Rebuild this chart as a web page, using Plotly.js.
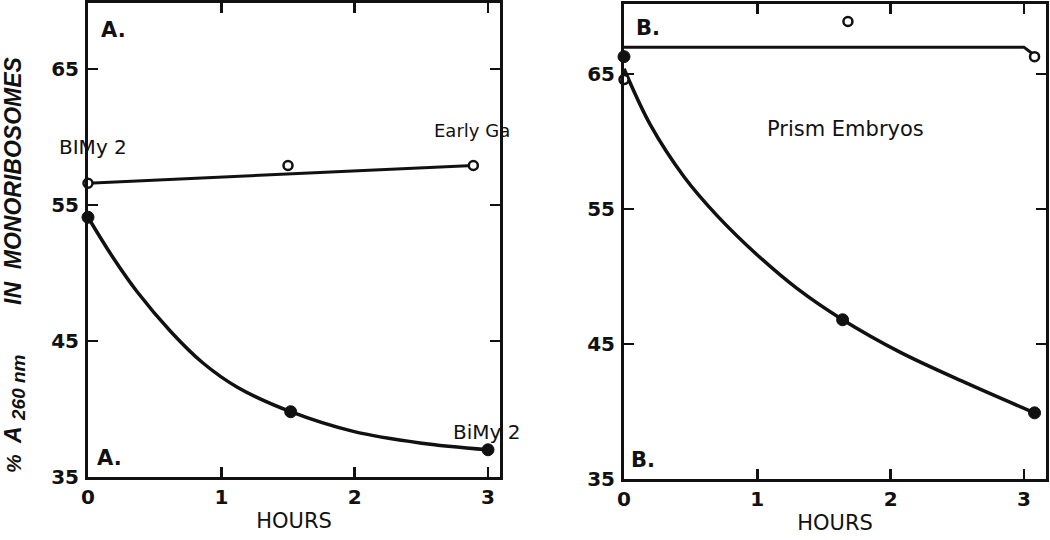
<!DOCTYPE html>
<html>
<head>
<meta charset="utf-8">
<script src="https://cdn.plot.ly/plotly-3.0.1.min.js"></script>
<style>html,body{margin:0;padding:0;background:#fff;}#chart{width:1050px;height:540px;}</style>
</head>
<body>
<div id="chart"></div>
<script>
// ---- Panel A data (hours, % A260 in monoribosomes) ----
const openA_x = [0, 1.5, 2.89];
const openA_y = [56.6, 57.9, 57.9];
const openLineA_x = [0, 2.89];
const openLineA_y = [56.6, 57.9];
const filledA_x = [0, 1.52, 3.0];
const filledA_y = [54.1, 39.8, 37.0];
const curveA_x = [0, 0.19, 0.37, 0.62, 0.86, 1.12, 1.52, 1.99, 2.49, 3.0];
const curveA_y = [54.1, 51.1, 48.6, 45.7, 43.4, 41.6, 39.8, 38.35, 37.5, 37.0];

// ---- Panel B data ----
const openB_x = [0, 1.68, 3.08];
const openB_y = [64.6, 68.9, 66.3];
const openLineB_x = [0, 3.0, 3.08];
const openLineB_y = [67.0, 67.0, 66.4];
const filledB_x = [0, 1.64, 3.08];
const filledB_y = [66.3, 46.8, 39.9];
const curveB_x = [0, 0.2, 0.45, 0.7, 1.0, 1.3, 1.64, 2.07, 2.57, 3.08];
const curveB_y = [65.4, 61.2, 57.4, 54.5, 51.6, 49.1, 46.8, 44.4, 42.1, 39.9];

const xTicks = [0, 1, 2, 3];
const yTicks = [35, 45, 55, 65];

const FONT = 'DejaVu Sans, sans-serif';
const FONT2 = 'Liberation Sans, Arial, sans-serif';
const ink = '#111';

function curve(x, y, xa, ya) {
  return {x: x, y: y, xaxis: xa, yaxis: ya, mode: 'lines', type: 'scatter',
    line: {color: ink, width: 3.5, shape: 'spline', smoothing: 1}, hoverinfo: 'skip', showlegend: false};
}
function straight(x, y, xa, ya) {
  return {x: x, y: y, xaxis: xa, yaxis: ya, mode: 'lines', type: 'scatter',
    line: {color: ink, width: 3}, hoverinfo: 'skip', showlegend: false};
}
function pts(x, y, xa, ya, filled) {
  return {x: x, y: y, xaxis: xa, yaxis: ya, mode: 'markers', type: 'scatter', cliponaxis: false,
    marker: filled ? {size: 12, color: ink, line: {color: ink, width: 1}}
                   : {size: 9, color: '#fff', line: {color: ink, width: 2.5}},
    showlegend: false};
}

const data = [
  straight(openLineA_x, openLineA_y, 'x', 'y'),
  curve(curveA_x, curveA_y, 'x', 'y'),
  pts(openA_x, openA_y, 'x', 'y', false),
  pts(filledA_x, filledA_y, 'x', 'y', true),
  straight(openLineB_x, openLineB_y, 'x2', 'y2'),
  curve(curveB_x, curveB_y, 'x2', 'y2'),
  pts(openB_x, openB_y, 'x2', 'y2', false),
  pts(filledB_x, filledB_y, 'x2', 'y2', true)
];

function xax(domain, range, anchor) {
  return {domain: domain, range: range, anchor: anchor, tickvals: xTicks, ticktext: xTicks.map(String),
    ticks: 'inside', ticklen: 10, tickwidth: 2.5, tickcolor: ink, showline: true, linewidth: 3, linecolor: ink,
    mirror: 'ticks', showgrid: false, zeroline: false, ticklabelstandoff: 0,
    tickfont: {family: FONT, size: 20, color: ink, weight: 'bold'},
    title: {text: 'HOURS', font: {family: FONT, size: 21, color: ink}, standoff: 6}};
}
function yax(domain, range, anchor) {
  return {domain: domain, range: range, anchor: anchor, tickvals: yTicks, ticktext: yTicks.map(String),
    ticks: 'inside', ticklen: 10, tickwidth: 2.5, tickcolor: ink, showline: true, linewidth: 3, linecolor: ink,
    mirror: 'ticks', showgrid: false, zeroline: false, ticklabelstandoff: 2,
    tickfont: {family: FONT, size: 20, color: ink, weight: 'bold'}};
}

const ann = (x, y, xr, yr, text, size, opts) => Object.assign({x: x, y: y, xref: xr, yref: yr, text: text,
  showarrow: false, font: {family: FONT, size: size, color: ink}}, opts || {});
// rotated pieces of the y-axis title, placed in pixel terms on the paper
const yt = (px, py, text, size) => ann(px / 1050, 1 - py / 540, 'paper', 'paper', text, size,
  {textangle: -90, xanchor: 'center', yanchor: 'middle',
   font: {family: FONT2, size: size, color: ink, weight: 'bold', style: 'italic'}});

const layout = {
  width: 1050, height: 540,
  margin: {l: 0, r: 0, t: 0, b: 0},
  paper_bgcolor: '#fff', plot_bgcolor: '#fff',
  xaxis: xax([0.0838, 0.4762], [0, 3.09], 'y'),
  yaxis: yax([0.1167, 0.9944], [35, 69.85], 'x'),
  xaxis2: xax([0.5943, 0.9962], [0, 3.166], 'y2'),
  yaxis2: yax([0.1130, 0.9926], [35, 70.2], 'x2'),
  annotations: [
    ann(0.19, 67.9, 'x', 'y', '<b>A.</b>', 21),
    ann(0.16, 36.4, 'x', 'y', '<b>A.</b>', 21),
    ann(0.04, 59.3, 'x', 'y', 'BIMy 2', 20),
    ann(2.88, 60.5, 'x', 'y', 'Early Ga', 18),
    ann(2.99, 38.3, 'x', 'y', 'BiMy 2', 20),
    ann(0.18, 68.4, 'x2', 'y2', '<b>B.</b>', 21),
    ann(0.14, 36.4, 'x2', 'y2', '<b>B.</b>', 21),
    ann(1.66, 60.9, 'x2', 'y2', 'Prism Embryos', 21),
    yt(13, 181, 'IN\u00a0\u00a0MONORIBOSOMES', 23),
    yt(18, 388, '260\u00a0nm', 19),
    yt(13, 435, 'A', 23),
    yt(13, 464, '%', 21)
  ]
};

Plotly.newPlot('chart', data, layout, {staticPlot: true, displayModeBar: false});
</script>
</body>
</html>
